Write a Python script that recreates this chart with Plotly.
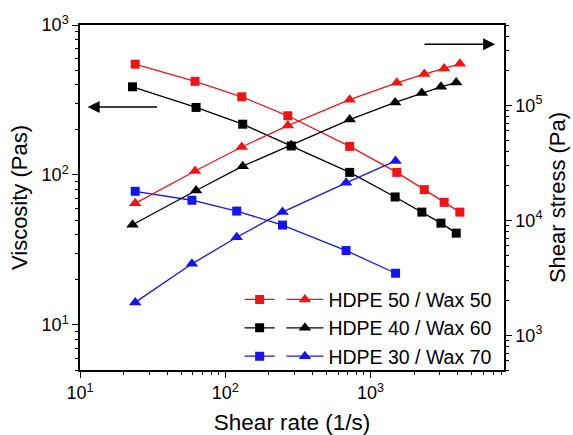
import plotly.graph_objects as go
import math

# Shear rate (1/s)
rate_5050 = [24, 62, 130, 270, 720, 1520, 2350, 3220, 4130]
rate_4060 = [23, 63, 132, 285, 720, 1480, 2260, 3060, 3900]
rate_3070 = [24, 59, 120, 248, 680, 1490]

# Viscosity (Pas)
visc_5050 = [548, 421, 332, 248, 155, 104, 79.8, 65.6, 56.5]
visc_4060 = [387, 282, 218, 156, 104, 71.3, 56.5, 47.7, 40.9]
visc_3070 = [77.8, 67.8, 57.4, 46.3, 31.3, 22.1]

# Shear stress (Pa)
stress_5050 = [14060, 26900, 43450, 66700, 112000, 157000, 187000, 209000, 230000]
stress_4060 = [9160, 18200, 29600, 45000, 75200, 106000, 128000, 145000, 158000]
stress_3070 = [1936, 4190, 7130, 11800, 21200, 32900]

# Tick exponents
x_exps = [1, 2, 3]
y_exps = [1, 2, 3]
y2_exps = [3, 4, 5]

names = ["HDPE 50 / Wax 50", "HDPE 40 / Wax 60", "HDPE 30 / Wax 70"]
colors = ["#f01414", "#000000", "#1414f0"]
rates = [rate_5050, rate_4060, rate_3070]
viscs = [visc_5050, visc_4060, visc_3070]
stresses = [stress_5050, stress_4060, stress_3070]

FONT = "Liberation Sans, Arial, sans-serif"


def pow_ticks(exps):
    return dict(tickvals=[10 ** e for e in exps],
                ticktext=["10<sup>%d</sup>" % e for e in exps])


fig = go.Figure()
for i in range(3):
    fig.add_trace(go.Scatter(
        x=rates[i], y=viscs[i], mode="lines+markers", name=" ",
        line=dict(color=colors[i], width=1.3),
        marker=dict(symbol="square", size=9, color=colors[i]),
        legend="legend", yaxis="y"))
for i in range(3):
    fig.add_trace(go.Scatter(
        x=rates[i], y=stresses[i], mode="lines+markers", name=names[i],
        line=dict(color=colors[i], width=1.3),
        marker=dict(symbol="triangle-up", size=11, color=colors[i]),
        legend="legend2", yaxis="y2"))

axis_common = dict(
    type="log", showline=True, linecolor="black", linewidth=1.5,
    ticks="outside", ticklen=6, tickwidth=1.2, tickcolor="black",
    showgrid=False, zeroline=False, automargin=False,
    minor=dict(ticks="outside", ticklen=3, tickwidth=1, tickcolor="black", dtick="D1", showgrid=False),
    tickfont=dict(family=FONT, size=18, color="black"),
)

fig.update_layout(
    width=573, height=435,
    margin=dict(l=80, r=69, t=25, b=65),
    paper_bgcolor="white", plot_bgcolor="white",
    font=dict(family=FONT, color="black"),
    xaxis=dict(axis_common, **pow_ticks(x_exps), range=[1, 3.92], mirror=True,
               title=dict(text="Shear rate (1/s)", font=dict(family=FONT, size=22.5), standoff=16)),
    yaxis=dict(axis_common, **pow_ticks(y_exps), range=[math.log10(5), 3],
               title=dict(text="Viscosity (Pas)", font=dict(family=FONT, size=22), standoff=8)),
    yaxis2=dict(axis_common, **pow_ticks(y2_exps), range=[math.log10(500), math.log10(5e5)],
                overlaying="y", side="right",
                title=dict(text="Shear stress (Pa)", font=dict(family=FONT, size=22), standoff=8)),
    legend=dict(x=0.3765, y=0.26, xanchor="left", yanchor="top", bgcolor="rgba(0,0,0,0)",
                font=dict(family=FONT, size=19.5), tracegroupgap=0, itemwidth=30),
    legend2=dict(x=0.475, y=0.26, xanchor="left", yanchor="top", bgcolor="rgba(0,0,0,0)",
                 font=dict(family=FONT, size=19.5), tracegroupgap=0, itemwidth=37),
    showlegend=True,
)

fig.add_annotation(x=0.018, y=0.762, xref="paper", yref="paper", ax=71, ay=0,
                   text="", showarrow=True, arrowhead=2, arrowsize=1.6, arrowwidth=1.5, arrowcolor="black")
fig.add_annotation(x=0.979, y=0.944, xref="paper", yref="paper", ax=-72, ay=0,
                   text="", showarrow=True, arrowhead=2, arrowsize=1.6, arrowwidth=1.5, arrowcolor="black")

fig.write_html("out.html")
